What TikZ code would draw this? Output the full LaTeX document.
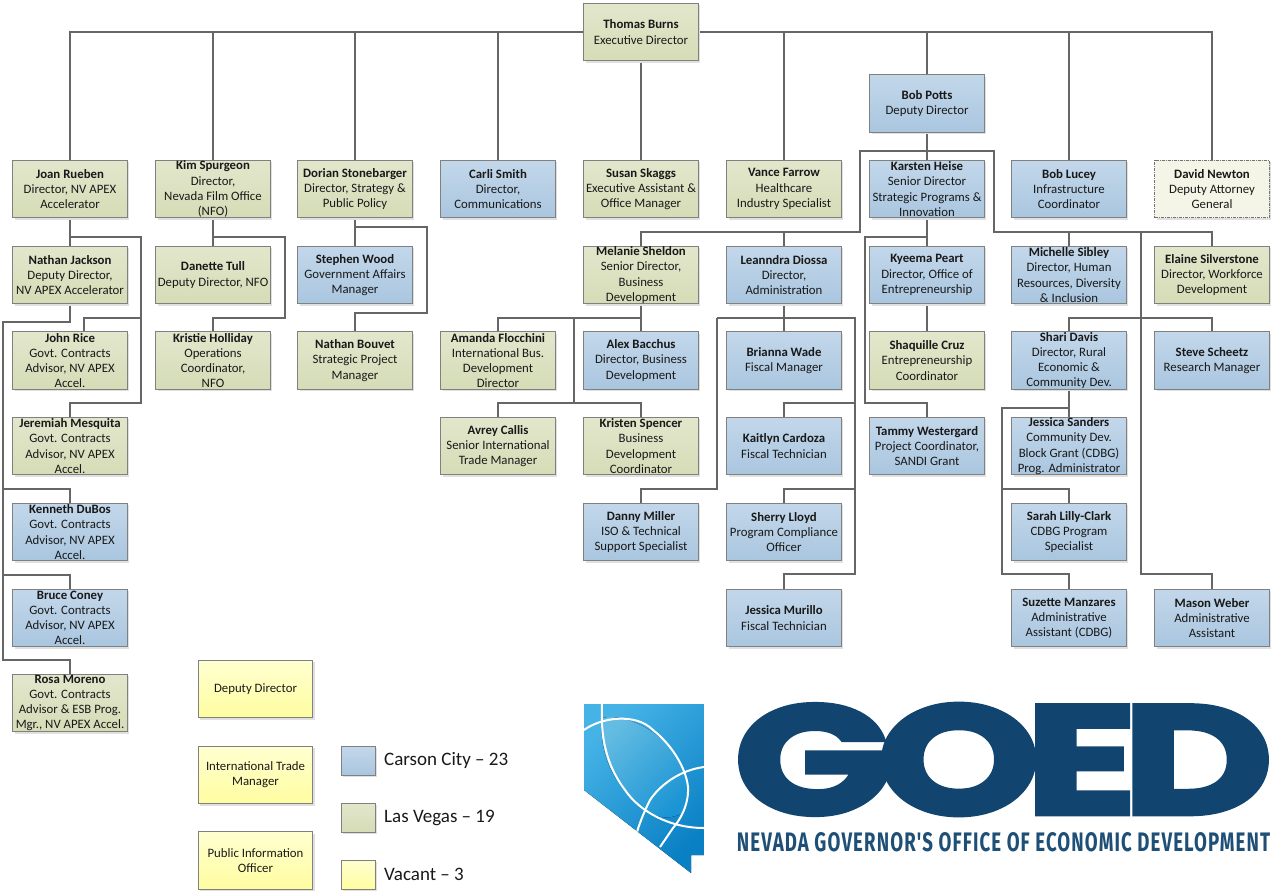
\documentclass[tikz,border=0pt]{standalone}
\usepackage{fontspec}
\usepackage{graphicx}
\setmainfont{Carlito}
\newfontfamily\goedfont[FakeBold=3,LetterSpace=-7]{Poppins}
\newfontfamily\goedsub[LetterSpace=6]{Fira Sans}
\usetikzlibrary{calc}
\usetikzlibrary{backgrounds}
\usetikzlibrary{shadows}
\definecolor{goedblue}{HTML}{11456F}
\definecolor{subblue}{HTML}{1E4F77}

\begin{document}
\begin{tikzpicture}[x=1pt,y=-1pt]
\tikzstyle{person}=[draw=black!50,line width=0.9pt,minimum width=114.5pt,minimum height=57.5pt,inner sep=0pt,outer sep=0pt,align=center,text=black!90,font=\fontsize{12.8}{15.2}\selectfont,drop shadow={fill=black!12,opacity=1,shadow xshift=2pt,shadow yshift=-2pt}]
\tikzstyle{lasvegas}=[person,top color=green1,bottom color=green2]
\tikzstyle{carson}=[person,top color=blue1,bottom color=blue2]
\tikzstyle{vacant}=[person,top color=yellow1,bottom color=yellow2]
\tikzstyle{conn}=[line width=1.4pt,draw=black!60]
\tikzstyle{key}=[draw=black!50,line width=0.9pt,minimum width=34pt,minimum height=29pt,inner sep=0pt,outer sep=0pt,drop shadow={fill=black!12,opacity=1,shadow xshift=2pt,shadow yshift=-2pt}]
\tikzstyle{keytext}=[anchor=west,inner sep=0pt,text=black!90,font=\fontsize{19}{22}\selectfont]
\tikzstyle{curve}=[white,line width=2pt]
\definecolor{green1}{HTML}{E2E7CC}
\definecolor{green2}{HTML}{D5DCB6}
\definecolor{blue1}{HTML}{C3D7EA}
\definecolor{blue2}{HTML}{A9C6DF}
\definecolor{yellow1}{HTML}{FFFFD0}
\definecolor{yellow2}{HTML}{FFFDA0}
\definecolor{newtonfill}{HTML}{F4F5E6}
\definecolor{nevlight}{HTML}{45B3E6}
\definecolor{nevdark}{HTML}{0A80C4}
\definecolor{lenslight}{HTML}{64BCE2}
\definecolor{lensdark}{HTML}{1A94D4}
\useasboundingbox (0,0) rectangle (1273,892);
% top of the chart
\node (thomas) [lasvegas] at (641,32) {\textbf{Thomas Burns}\\Executive Director};
\node (potts) [carson] at (927,103.5) {\textbf{Bob Potts}\\Deputy Director};
% second row
\node (joan) [lasvegas] at (70,189) {\textbf{Joan Rueben}\\Director, NV APEX\\Accelerator};
\node (kim) [lasvegas] at (213,189) {\textbf{Kim Spurgeon}\\Director,\\Nevada Film Office\\(NFO)};
\node (dorian) [lasvegas] at (355,189) {\textbf{Dorian Stonebarger}\\Director, Strategy \&\\Public Policy};
\node (carli) [carson] at (498,189) {\textbf{Carli Smith}\\Director,\\Communications};
\node (susan) [lasvegas] at (641,189) {\textbf{Susan Skaggs}\\Executive Assistant \&\\Office Manager};
\node (vance) [lasvegas] at (784,189) {\textbf{Vance Farrow}\\Healthcare\\Industry Specialist};
\node (karsten) [carson] at (927,189) {\textbf{Karsten Heise}\\Senior Director\\Strategic Programs \&\\Innovation};
\node (lucey) [carson] at (1069,189) {\textbf{Bob Lucey}\\Infrastructure\\Coordinator};
\node (newton) [person,fill=newtonfill,draw=black!55,dash pattern=on 3pt off 1pt on 1pt off 1pt] at (1212,189) {\textbf{David Newton}\\Deputy Attorney\\General};
% third row
\node (jackson) [lasvegas] at (70,275) {\textbf{Nathan Jackson}\\Deputy Director,\\NV APEX Accelerator};
\node (danette) [lasvegas] at (213,275) {\textbf{Danette Tull}\\Deputy Director, NFO};
\node (wood) [carson] at (355,275) {\textbf{Stephen Wood}\\Government Affairs\\Manager};
\node (melanie) [lasvegas] at (641,275) {\textbf{Melanie Sheldon}\\Senior Director,\\Business\\Development};
\node (leanndra) [carson] at (784,275) {\textbf{Leanndra Diossa}\\Director,\\Administration};
\node (kyeema) [carson] at (927,275) {\textbf{Kyeema Peart}\\Director, Office of\\Entrepreneurship};
\node (michelle) [carson] at (1069,275) {\textbf{Michelle Sibley}\\Director, Human\\Resources, Diversity\\\& Inclusion};
\node (elaine) [lasvegas] at (1212,275) {\textbf{Elaine Silverstone}\\Director, Workforce\\Development};
% fourth row
\node (rice) [lasvegas] at (70,360.5) {\textbf{John Rice}\\Govt. Contracts\\Advisor, NV APEX\\Accel.};
\node (kristie) [lasvegas] at (213,360.5) {\textbf{Kristie Holliday}\\Operations\\Coordinator,\\NFO};
\node (bouvet) [lasvegas] at (355,360.5) {\textbf{Nathan Bouvet}\\Strategic Project\\Manager};
\node (amanda) [lasvegas] at (498,360.5) {\textbf{Amanda Flocchini}\\International Bus.\\Development\\Director};
\node (alex) [carson] at (641,360.5) {\textbf{Alex Bacchus}\\Director, Business\\Development};
\node (brianna) [carson] at (784,360.5) {\textbf{Brianna Wade}\\Fiscal Manager};
\node (shaquille) [lasvegas] at (927,360.5) {\textbf{Shaquille Cruz}\\Entrepreneurship\\Coordinator};
\node (shari) [carson] at (1069,360.5) {\textbf{Shari Davis}\\Director, Rural\\Economic \&\\Community Dev.};
\node (steve) [carson] at (1212,360.5) {\textbf{Steve Scheetz}\\Research Manager};
% fifth row
\node (jeremiah) [lasvegas] at (70,446) {\textbf{Jeremiah Mesquita}\\Govt. Contracts\\Advisor, NV APEX\\Accel.};
\node (avrey) [lasvegas] at (498,446) {\textbf{Avrey Callis}\\Senior International\\Trade Manager};
\node (kristen) [lasvegas] at (641,446) {\textbf{Kristen Spencer}\\Business\\Development\\Coordinator};
\node (kaitlyn) [carson] at (784,446) {\textbf{Kaitlyn Cardoza}\\Fiscal Technician};
\node (tammy) [carson] at (927,446) {\textbf{Tammy Westergard}\\Project Coordinator,\\SANDI Grant};
\node (jsanders) [carson] at (1069,446) {\textbf{Jessica Sanders}\\Community Dev.\\Block Grant (CDBG)\\Prog. Administrator};
% sixth row
\node (kenneth) [carson] at (70,532) {\textbf{Kenneth DuBos}\\Govt. Contracts\\Advisor, NV APEX\\Accel.};
\node (danny) [carson] at (641,532) {\textbf{Danny Miller}\\ISO \& Technical\\Support Specialist};
\node (sherry) [carson] at (784,532) {\textbf{Sherry Lloyd}\\Program Compliance\\Officer};
\node (sarah) [carson] at (1069,532) {\textbf{Sarah Lilly-Clark}\\CDBG Program\\Specialist};
% seventh and eighth row
\node (bruce) [carson] at (70,618) {\textbf{Bruce Coney}\\Govt. Contracts\\Advisor, NV APEX\\Accel.};
\node (murillo) [carson] at (784,618) {\textbf{Jessica Murillo}\\Fiscal Technician};
\node (suzette) [carson] at (1069,618) {\textbf{Suzette Manzares}\\Administrative\\Assistant (CDBG)};
\node (mason) [carson] at (1212,618) {\textbf{Mason Weber}\\Administrative\\Assistant};
\node (rosa) [lasvegas] at (70,703) {\textbf{Rosa Moreno}\\Govt. Contracts\\Advisor \& ESB Prog.\\Mgr., NV APEX Accel.};
% vacant positions
\node (vacdeputy) [vacant] at (255.5,689) {Deputy Director};
\node (vactrade) [vacant] at (255.5,775) {International Trade\\Manager};
\node (vacinfo) [vacant] at (255.5,860.5) {Public Information\\Officer};
% legend
\node (keycarson) [key,top color=blue1,bottom color=blue2] at (358,760.5) {};
\node (keyvegas) [key,top color=green1,bottom color=green2] at (358,817.5) {};
\node (keyvacant) [key,top color=yellow1,bottom color=yellow2] at (358,874.5) {};
\node (txtcarson) [keytext] at (384,760.5) {Carson City -- 23};
\node (txtvegas) [keytext] at (384,817.5) {Las Vegas -- 19};
\node (txtvacant) [keytext] at (384,874.5) {Vacant -- 3};
% connectors go behind the boxes
\begin{scope}[on background layer]
\draw [conn] (joan.north) |- (thomas.west);
\draw [conn] (kim.north) |- (thomas.west);
\draw [conn] (dorian.north) |- (thomas.west);
\draw [conn] (carli.north) |- (thomas.west);
\draw [conn] (thomas.south) -- (susan.north);
\draw [conn] (vance.north) |- (thomas.east);
\draw [conn] (potts.north) |- (thomas.east);
\draw [conn] (lucey.north) |- (thomas.east);
\draw [conn] (newton.north) |- (thomas.east);
% Joan Rueben
\coordinate (joanrail) at (141,237);
\coordinate (joanmid) at (141,318);
\coordinate (joanend) at (141,403);
\draw [conn] (joan.south) -- (jackson.north);
\draw [conn] (joan.south) |- (joanrail) -- (joanend) -| (jeremiah.north);
\draw [conn] (joanmid) -| ($(rice.north)+(14,0)$);
% Nathan Jackson
\coordinate (jackrail) at (3,322);
\coordinate (jackmid1) at (3,489);
\coordinate (jackmid2) at (3,575);
\coordinate (jackend) at (3,660);
\draw [conn] (jackson.south) |- (jackrail) -- (jackend) -| (rosa.north);
\draw [conn] (jackmid1) -| (kenneth.north);
\draw [conn] (jackmid2) -| (bruce.north);
% Kim Spurgeon
\coordinate (kimrail) at (285,237);
\coordinate (kimend) at (285,318);
\draw [conn] (kim.south) -- (danette.north);
\draw [conn] (kim.south) |- (kimrail) -- (kimend) -| (kristie.north);
% Dorian Stonebarger
\coordinate (dorianrail) at (427,227);
\coordinate (dorianend) at (427,313);
\draw [conn] (dorian.south) -- (wood.north);
\draw [conn] (dorian.south) |- (dorianrail) -- (dorianend) -| (bouvet.north);
% Bob Potts
\coordinate (pottsbus) at (927,151);
\coordinate (pottsleft) at (860,151);
\coordinate (pottslow) at (860,232);
\coordinate (pottsright) at (994,151);
\coordinate (pottsdown) at (994,232);
\draw [conn] (potts.south) -- (karsten.north);
\draw [conn] (pottsbus) -- (pottsleft) -- (pottslow) -| (melanie.north);
\draw [conn] (leanndra.north) |- (pottslow);
\draw [conn] (pottsbus) -- (pottsright) -- (pottsdown) -| (elaine.north);
\draw [conn] (michelle.north) |- (pottsdown);
% rail for Shari Davis, Steve Scheetz and Mason Weber
\coordinate (masontop) at (1141,232);
\coordinate (masonmid) at (1141,318);
\coordinate (masonend) at (1141,574);
\draw [conn] (masontop) -- (masonend) -| (mason.north);
\draw [conn] (masonmid) -| (shari.north);
\draw [conn] (masonmid) -| (steve.north);
% Shari Davis
\coordinate (sharirail) at (1002,408);
\coordinate (sharimid) at (1002,489);
\coordinate (shariend) at (1002,574);
\draw [conn] (shari.south) -- (jsanders.north);
\draw [conn] (shari.south) |- (sharirail) -- (shariend) -| (suzette.north);
\draw [conn] (sharimid) -| (sarah.north);
% Karsten Heise
\coordinate (karstenrail) at (865,237);
\coordinate (karstenend) at (865,403);
\draw [conn] (karsten.south) -- (kyeema.north);
\draw [conn] (kyeema.south) -- (shaquille.north);
\draw [conn] (karsten.south) |- (karstenrail) -- (karstenend) -| (tammy.north);
% Melanie Sheldon
\coordinate (melaniebus) at (574,318);
\coordinate (melanieend) at (574,403);
\draw [conn] (melanie.south) -- (alex.north);
\draw [conn] (melanie.south) |- (melaniebus) -| (amanda.north);
\draw [conn] (melaniebus) -- (melanieend) -| (avrey.north);
\draw [conn] (melanieend) -| (kristen.north);
% Leanndra Diossa
\coordinate (leanleft) at (717,318);
\coordinate (leanlow) at (717,489);
\coordinate (leanright) at (855,318);
\coordinate (leanmid1) at (855,403);
\coordinate (leanmid2) at (855,489);
\coordinate (leanend) at (855,574);
\draw [conn] (leanndra.south) -- (brianna.north);
\draw [conn] (leanleft) -- (leanright) -- (leanend) -| (murillo.north);
\draw [conn] (leanleft) -- (leanlow) -| (danny.north);
\draw [conn] (leanmid1) -| (kaitlyn.north);
\draw [conn] (leanmid2) -| (sherry.north);
\end{scope}
% logo
\begin{scope}
\clip (584,704) -- (704,704) -- (704,855) -- (691,855) -- (691,873) -- (584,790) -- cycle;
\fill [top color=nevlight,bottom color=nevdark,shading angle=45] (584,704) rectangle (704,873);
\fill [top color=lenslight,bottom color=lensdark,shading angle=45] (602,718) .. controls (625,712) and (680,735) .. (688,787) .. controls (689,800) and (687,808) .. (683,813) .. controls (660,825) and (640,812) .. (617,780) .. controls (605,762) and (600,740) .. (602,718) -- cycle;
\draw [curve] (584,730) .. controls (600,718) and (635,712) .. (653,730) .. controls (672,745) and (686,768) .. (688,787) .. controls (689,805) and (680,820) .. (673,828) -- (660,847);
\draw [curve] (602,704) .. controls (600,745) and (610,770) .. (625,790) .. controls (640,812) and (670,828) .. (704,828);
\draw [curve] (704,767) .. controls (680,770) and (660,785) .. (650,800) .. controls (644,812) and (640,822) .. (637,832);
\end{scope}
\node (goed) [inner sep=0pt,text=goedblue] at (1003.5,759.5) {\resizebox{537pt}{110pt}{\goedfont\bfseries GOED}};
\node (goedname) [inner sep=0pt,text=subblue] at (1003.5,842) {\resizebox{533pt}{19pt}{\goedsub\bfseries NEVADA GOVERNOR'S OFFICE OF ECONOMIC DEVELOPMENT}};
\end{tikzpicture}
\end{document}
